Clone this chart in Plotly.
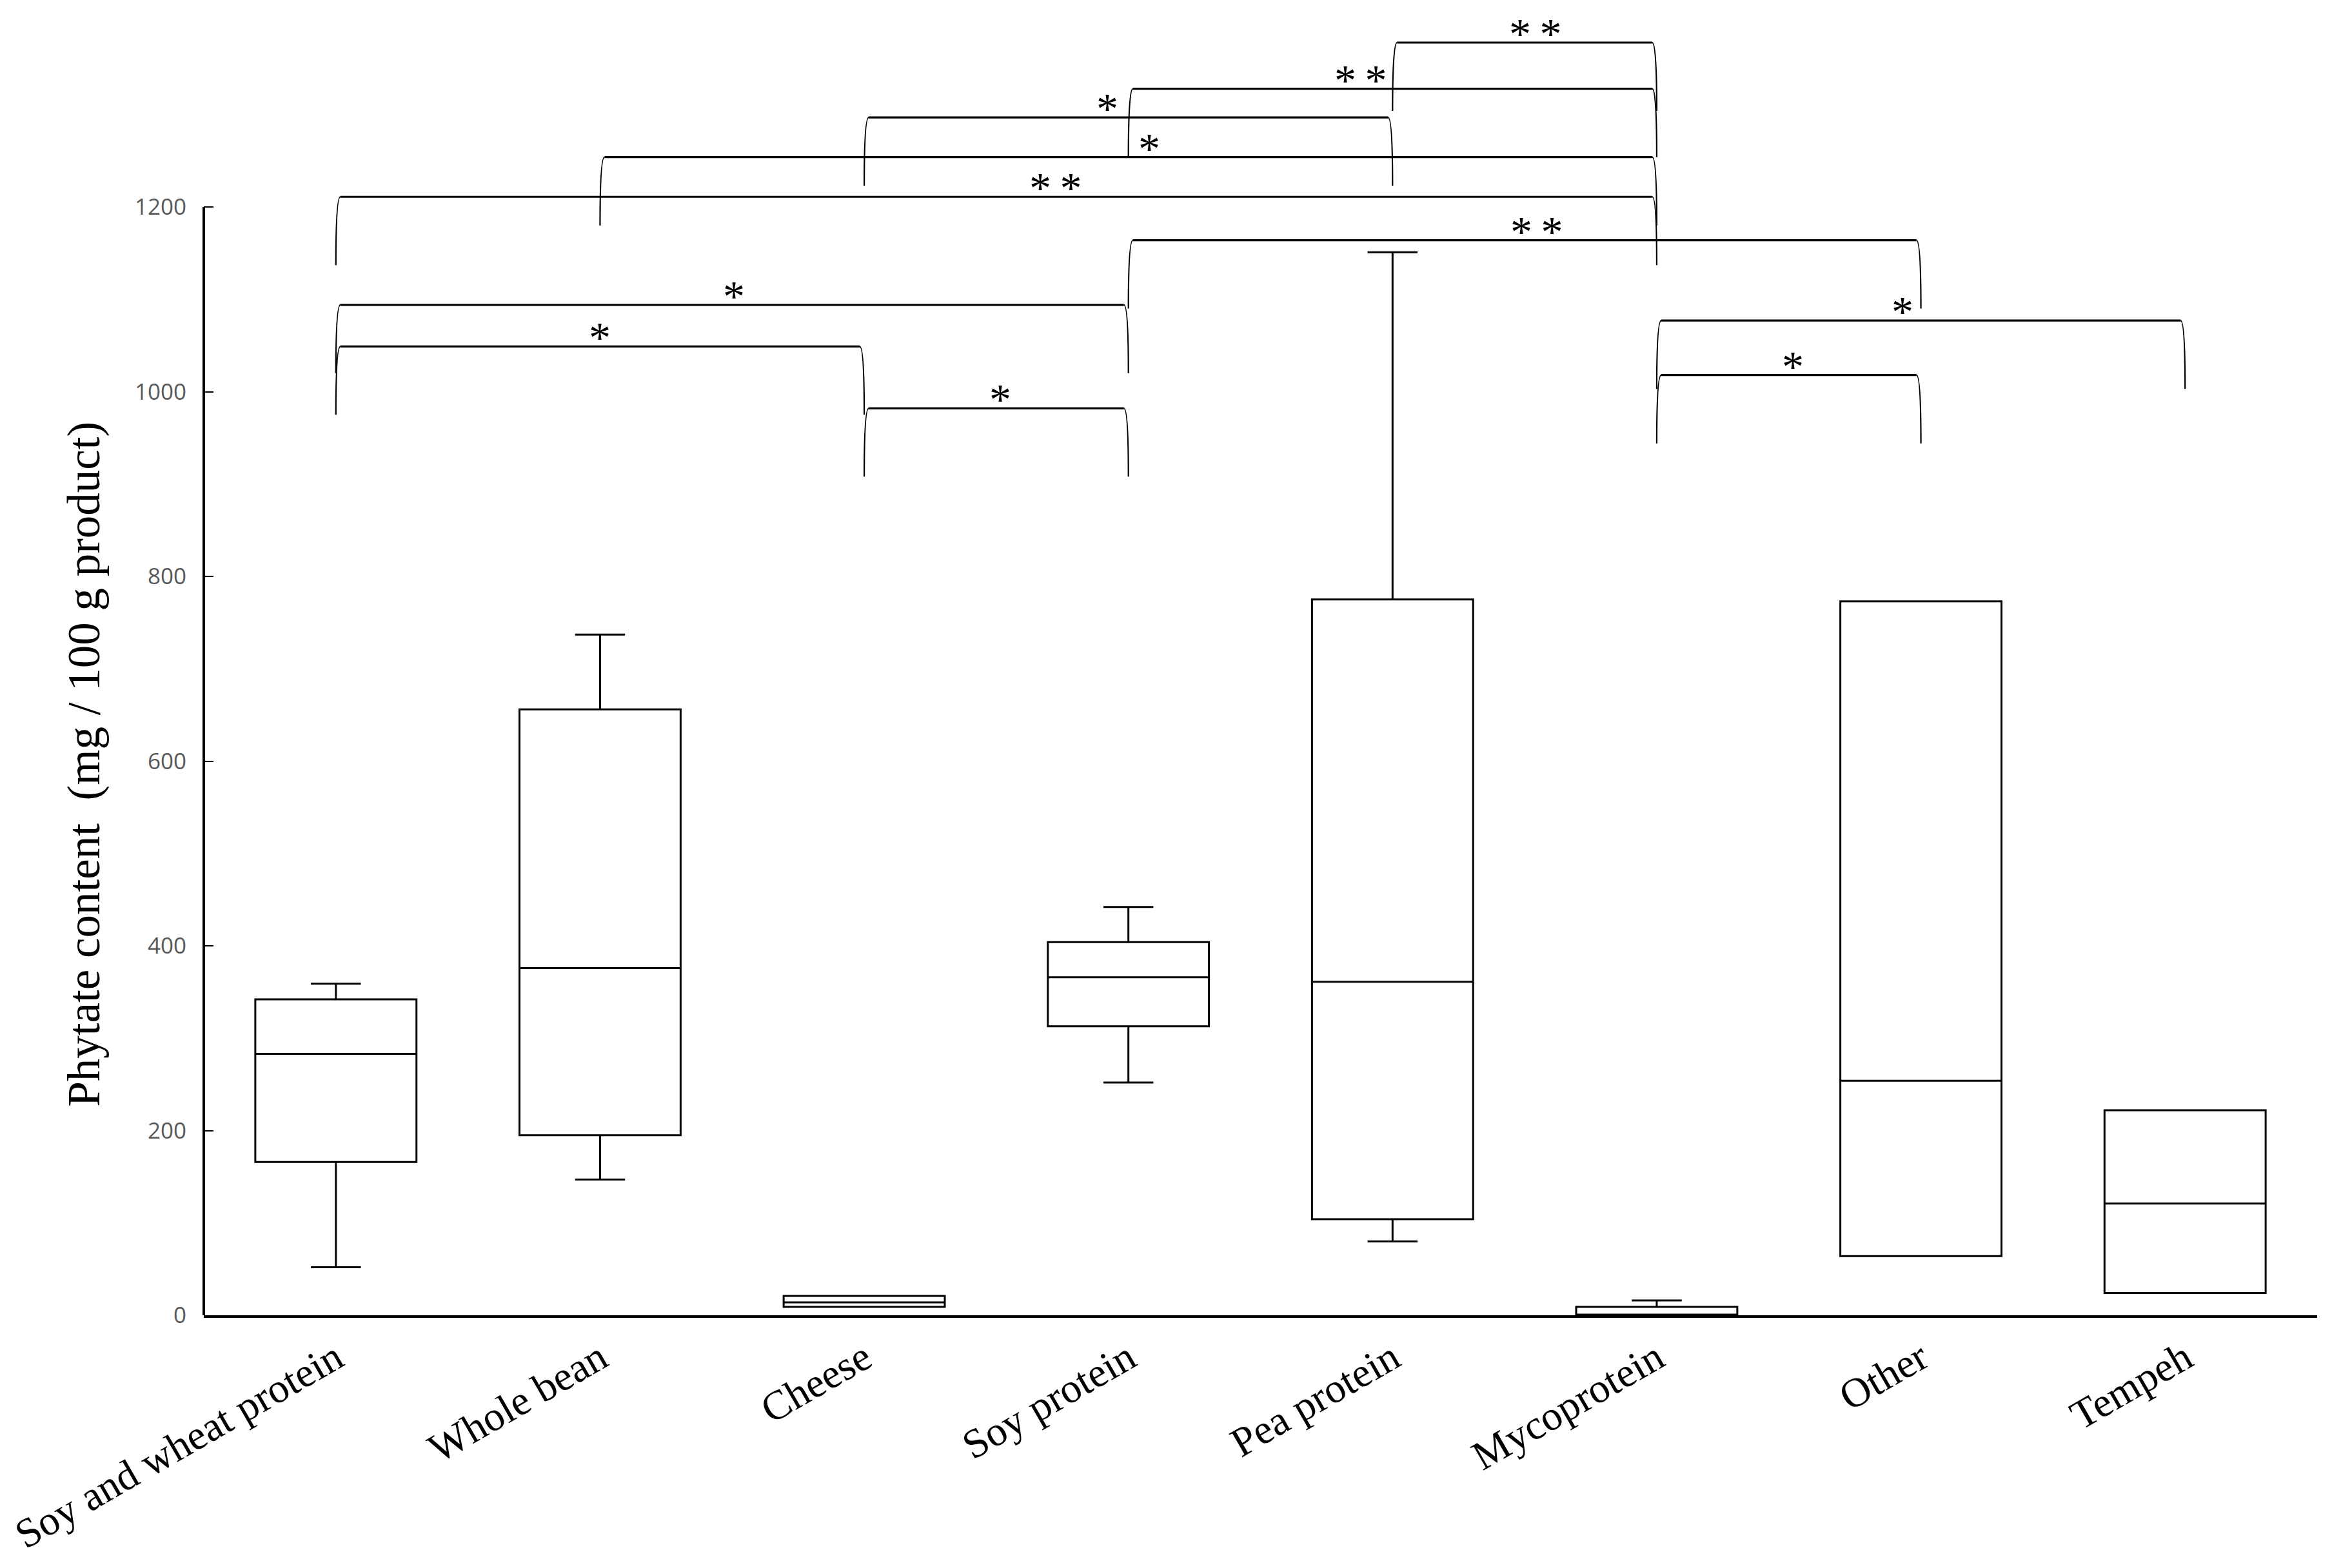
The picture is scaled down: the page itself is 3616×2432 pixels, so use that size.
import plotly.graph_objects as go

# ---------------- data ----------------
categories = ["Soy and wheat protein", "Whole bean", "Cheese", "Soy protein",
              "Pea protein", "Mycoprotein", "Other", "Tempeh"]
lower_whisker = [52, 147, 9, 252, 80, 0, 64, 24]
q1_values     = [166, 195, 9, 313, 104, 0, 64, 24]
median_values = [283, 376, 14, 366, 361, 0, 254, 121]
q3_values     = [342, 656, 21, 404, 775, 9, 773, 222]
upper_whisker = [359, 737, 21, 442, 1151, 16, 773, 222]

y_tick_values = [0, 200, 400, 600, 800, 1000, 1200]
y_title = "Phytate content  (mg / 100 g product)"

# significance brackets: left category index, right category index, height, label, label x
bracket_left   = [4, 3, 2, 1, 0, 3, 0, 5, 0, 5, 2]
bracket_right  = [5, 5, 4, 5, 5, 6, 3, 7, 2, 6, 3]
bracket_height = [1378, 1328, 1297, 1254, 1211, 1164, 1094, 1077, 1049, 1018, 982]
bracket_label  = ["**", "**", "*", "*", "**", "**", "*", "*", "*", "*", "*"]
label_x        = [4.54, 3.88, 2.92, 3.08, 2.725, 4.545, 1.507, 5.93, 1.0, 5.515, 2.515]

# ---------------- figure ----------------
fig = go.Figure()
fig.add_trace(go.Box(
    x=list(range(len(categories))),
    q1=q1_values, median=median_values, q3=q3_values,
    lowerfence=lower_whisker, upperfence=upper_whisker,
    width=0.61, whiskerwidth=0.31,
    fillcolor="white", line=dict(color="black", width=3),
    boxpoints=False, hoverinfo="skip",
))

LEG_DROP = 74      # data units the bracket legs hang down
CORNER_DX = 0.017  # horizontal size of the curved corner (x units)

shapes = []
annotations = []
for xl, xr, h, lab, lx in zip(bracket_left, bracket_right, bracket_height, bracket_label, label_x):
    yb = h - LEG_DROP
    shapes.append(dict(type="line", xref="x", yref="y", x0=xl + CORNER_DX, x1=xr - CORNER_DX,
                       y0=h, y1=h, line=dict(color="black", width=3.2)))
    shapes.append(dict(type="path", xref="x", yref="y",
                       path=f"M {xl},{yb} Q {xl},{h} {xl + CORNER_DX},{h}",
                       line=dict(color="black", width=2.2)))
    shapes.append(dict(type="path", xref="x", yref="y",
                       path=f"M {xr},{yb} Q {xr},{h} {xr - CORNER_DX},{h}",
                       line=dict(color="black", width=2.2)))
    annotations.append(dict(x=lx, y=h, xref="x", yref="y", text=lab.replace("**", "*\u2009*"),
                            showarrow=False, xanchor="center", yanchor="middle", yshift=14,
                            font=dict(family="Liberation Serif", size=68, color="black")))

# y axis line stops at the last tick
shapes.append(dict(type="line", xref="paper", yref="y", x0=0, x1=0, y0=0, y1=max(y_tick_values),
                   line=dict(color="black", width=4)))

annotations.append(dict(text=y_title, xref="paper", yref="y", x=-0.0565, y=597,
                        textangle=-90, showarrow=False, xanchor="center", yanchor="middle",
                        font=dict(family="Liberation Serif", size=71, color="black")))

# page body keeps an 8 px default margin, so the figure is 8 px smaller
fig.update_layout(
    width=3608, height=2424, autosize=False,
    margin=dict(l=308, r=23, t=0, b=392),
    paper_bgcolor="white", plot_bgcolor="white",
    showlegend=False,
    shapes=shapes, annotations=annotations,
    xaxis=dict(range=[-0.5, 7.5], tickvals=list(range(len(categories))), ticktext=categories,
               tickangle=-30, showline=True, linecolor="black", linewidth=4,
               ticks="", showgrid=False, zeroline=False,
               tickfont=dict(family="Liberation Serif", size=64, color="black")),
    yaxis=dict(range=[0, 1418.5], tickvals=y_tick_values, ticks="inside", ticklen=15,
               tickwidth=2, tickcolor="black", showline=False, showgrid=False, zeroline=False,
               ticklabelstandoff=26,
               tickfont=dict(family="Open Sans", size=35, color="#595959")),
)

fig.write_html("out.html")
